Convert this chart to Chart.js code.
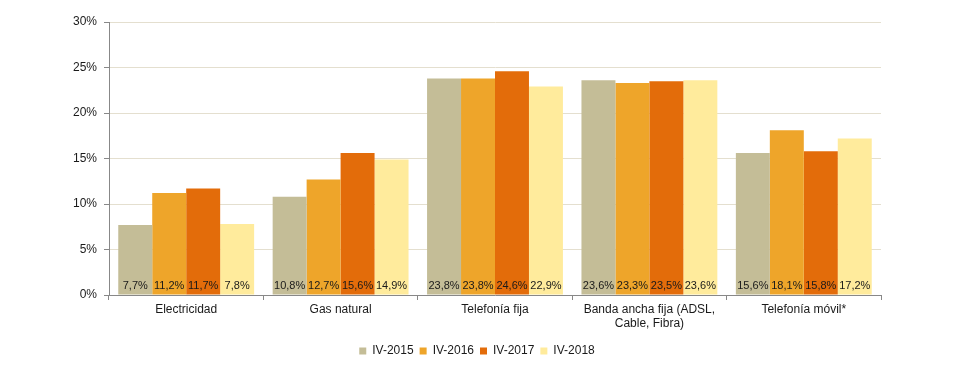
<!DOCTYPE html>
<html>
<head>
<meta charset="utf-8">
<script src="https://cdn.jsdelivr.net/npm/chart.js@4.4.1/dist/chart.umd.min.js"></script>
<style>
  html, body { margin: 0; padding: 0; background: #fff; }
  #wrap { width: 980px; height: 368px; }
</style>
</head>
<body>
<div id="wrap"><canvas id="chart"></canvas></div>
<script>
const categories = [
  'Electricidad',
  'Gas natural',
  'Telefonía fija',
  ['Banda ancha fija (ADSL,', 'Cable, Fibra)'],
  'Telefonía móvil*'
]
const seriesNames = ['IV-2015', 'IV-2016', 'IV-2017', 'IV-2018']
const iv2015 = [7.7, 10.8, 23.8, 23.6, 15.6]
const iv2016 = [11.2, 12.7, 23.8, 23.3, 18.1]
const iv2017 = [11.7, 15.6, 24.6, 23.5, 15.8]
const iv2018 = [7.8, 14.9, 22.9, 23.6, 17.2]
const yTicks = [0, 5, 10, 15, 20, 25, 30]

const colors = ['#C4BD97', '#EEA52A', '#E36C0A', '#FFEB9C']
const font = 'Liberation Sans, Arial, sans-serif'

// value labels at the foot of each bar
const bottomLabels = {
  id: 'bottomLabels',
  afterDatasetsDraw(chart) {
    const ctx = chart.ctx
    const base = chart.scales.y.getPixelForValue(0)
    ctx.save()
    ctx.font = '11px ' + font
    ctx.fillStyle = '#1a1a1a'
    ctx.textAlign = 'center'
    ctx.textBaseline = 'middle'
    chart.data.datasets.forEach((ds, i) => {
      chart.getDatasetMeta(i).data.forEach((bar, j) => {
        ctx.fillText(ds.data[j].toFixed(1).replace('.', ',') + '%', bar.x, base - 9)
      })
    })
    ctx.restore()
  }
}

const data = [iv2015, iv2016, iv2017, iv2018]

new Chart(document.getElementById('chart'), {
  type: 'bar',
  data: {
    labels: categories,
    datasets: seriesNames.map((name, i) => ({
      label: name,
      data: data[i],
      backgroundColor: colors[i],
      borderWidth: 0,
      categoryPercentage: 0.88,
      barPercentage: 1
    }))
  },
  options: {
    responsive: true,
    maintainAspectRatio: false,
    animation: false,
    layout: { padding: { top: 22, right: 99, left: 73, bottom: 1 } },
    plugins: {
      tooltip: { enabled: false },
      legend: {
        position: 'bottom',
        labels: {
          color: '#1a1a1a',
          font: { family: font, size: 12 },
          boxWidth: 7,
          boxHeight: 7,
          padding: 6
        }
      }
    },
    scales: {
      x: {
        afterFit(scale) { scale.height = 44 },
        grid: {
          offset: true,
          drawOnChartArea: false,
          tickLength: 5,
          tickColor: '#888'
        },
        border: { color: '#888' },
        ticks: {
          color: '#1a1a1a',
          font: { family: font, size: 12 },
          padding: 2,
          maxRotation: 0,
          autoSkip: false
        }
      },
      y: {
        min: 0,
        max: 30,
        afterFit(scale) { scale.width = 36 },
        afterBuildTicks(scale) { scale.ticks = yTicks.map(v => ({ value: v })) },
        grid: {
          color: '#E4DFCF',
          tickColor: '#888',
          tickLength: 5
        },
        border: { color: '#888' },
        ticks: {
          color: '#1a1a1a',
          font: { family: font, size: 12 },
          padding: 7,
          callback: v => v + '%'
        }
      }
    }
  },
  plugins: [bottomLabels]
})
</script>
</body>
</html>
